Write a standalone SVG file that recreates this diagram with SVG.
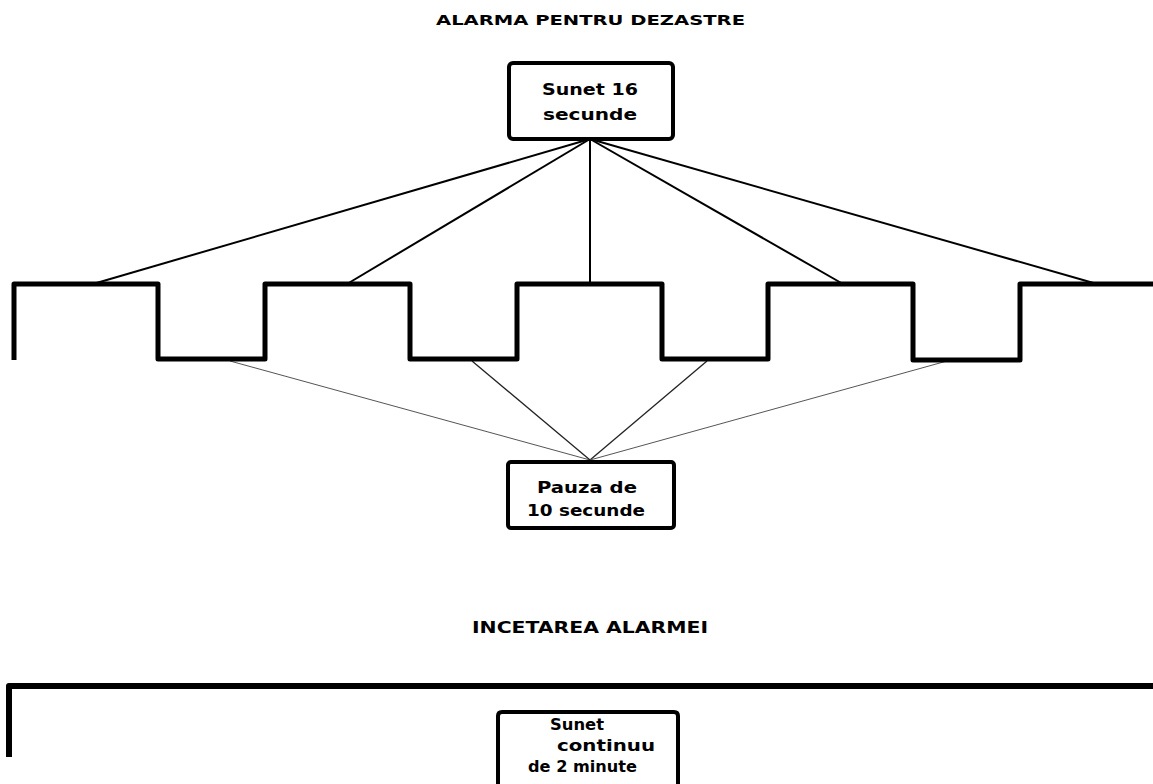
<svg xmlns="http://www.w3.org/2000/svg" width="1153" height="784" viewBox="0 0 1153 784">
<style>
text{font-family:"DejaVu Sans","Liberation Sans",sans-serif;font-weight:bold;fill:#000}
.t{font-size:14px}
.n{font-size:15px}
.box{fill:#fff;stroke:#000;stroke-width:4}
.sig{fill:none;stroke:#000;stroke-width:5;stroke-linejoin:round}
.c1{stroke:#000;stroke-width:2;fill:none}
.c2{stroke:#222;stroke-width:1.3;fill:none}
.c3{stroke:#555;stroke-width:1;fill:none}
</style>
<rect width="1153" height="784" fill="#fff"/>
<g id="title-top"><text class="t" x="436" y="25" textLength="309" lengthAdjust="spacingAndGlyphs">ALARMA PENTRU DEZASTRE</text></g>
<g id="connectors">
<line class="c1" x1="590" y1="139" x2="93" y2="284"/>
<line class="c1" x1="590" y1="139" x2="347" y2="284"/>
<line class="c1" x1="590" y1="139" x2="590" y2="284"/>
<line class="c1" x1="590" y1="139" x2="843" y2="284"/>
<line class="c1" x1="590" y1="139" x2="1097" y2="284"/>
<line class="c3" x1="230" y1="361" x2="590" y2="460"/>
<line class="c2" x1="472" y1="361" x2="590" y2="460"/>
<line class="c2" x1="707" y1="361" x2="590" y2="460"/>
<line class="c3" x1="947" y1="361" x2="590" y2="460"/>
</g>
<g id="node-sound">
<rect class="box" x="509" y="63" width="164" height="76" rx="4"/>
<text class="n" x="542" y="95" textLength="96" lengthAdjust="spacingAndGlyphs">Sunet 16</text>
<text class="n" x="543" y="120" textLength="94" lengthAdjust="spacingAndGlyphs">secunde</text>
</g>
<g id="signal-wave">
<path class="sig" d="M14,360 V284 H158 V359 H265 V284 H410 V359 H517 V284 H662 V359 H768 V284 H913 V360 H1020 V284 H1153"/>
</g>
<g id="node-pause">
<rect class="box" x="508" y="462" width="166" height="66" rx="3"/>
<text class="n" x="537" y="493" textLength="100" lengthAdjust="spacingAndGlyphs">Pauza de</text>
<text class="n" x="527" y="516" textLength="118" lengthAdjust="spacingAndGlyphs">10 secunde</text>
</g>
<g id="title-bottom"><text class="n" x="472" y="633" textLength="236" lengthAdjust="spacingAndGlyphs">INCETAREA ALARMEI</text></g>
<g id="signal-continuous">
<path class="sig" style="stroke-width:6" d="M9,757 V686 H1153"/>
</g>
<g id="node-continuous">
<path class="box" d="M498,790 V716 Q498,712 502,712 H674 Q678,712 678,716 V790"/>
<text class="n" x="550" y="730" textLength="54" lengthAdjust="spacingAndGlyphs">Sunet</text>
<text class="n" x="557" y="751" textLength="98" lengthAdjust="spacingAndGlyphs">continuu</text>
<text class="n" x="528" y="772" textLength="109" lengthAdjust="spacingAndGlyphs">de 2 minute</text>
</g>
</svg>
